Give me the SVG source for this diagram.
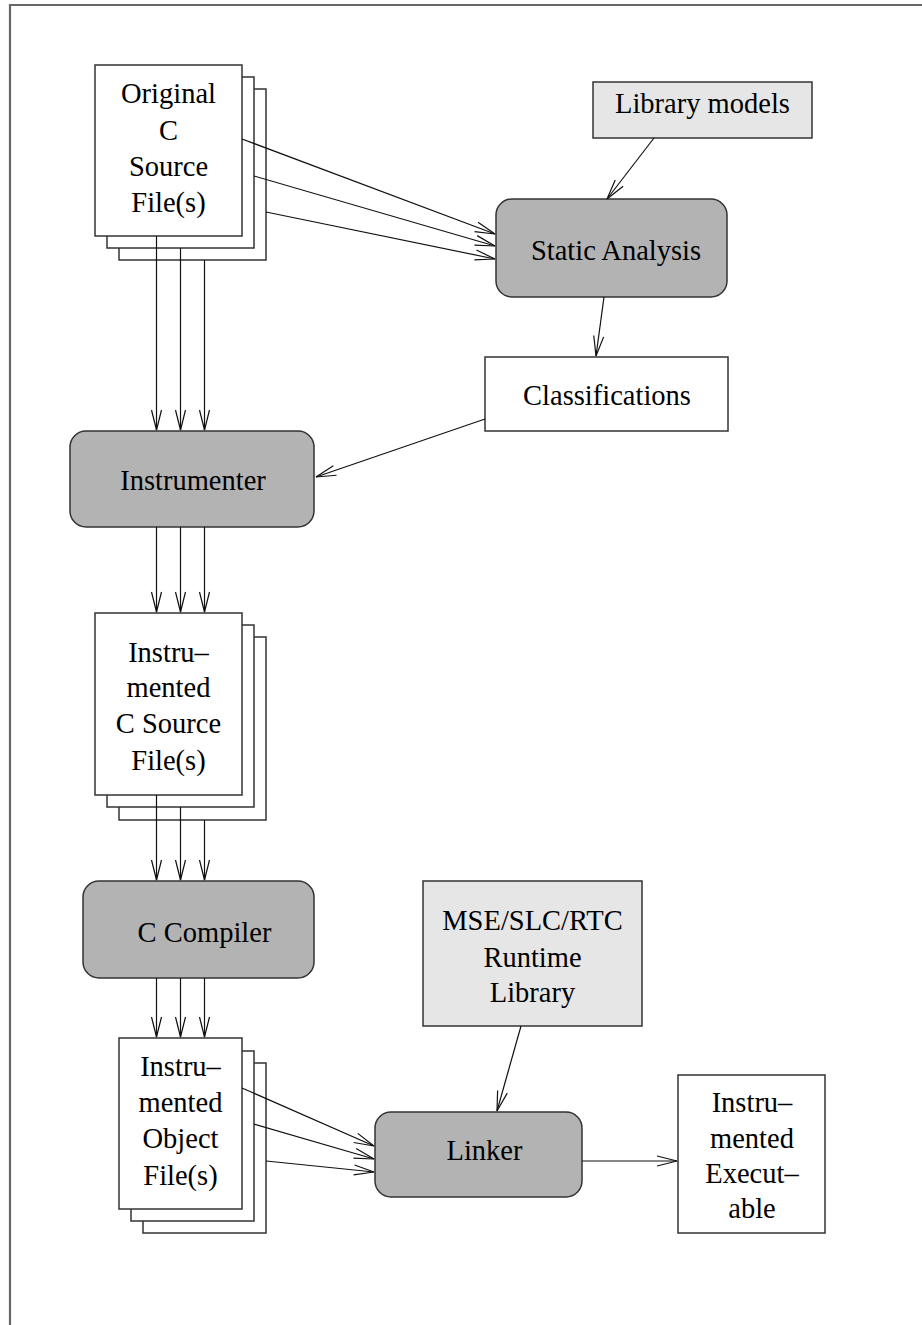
<svg xmlns="http://www.w3.org/2000/svg" width="922" height="1325" viewBox="0 0 922 1325">
<style>
.t{font-family:"Liberation Serif","Times New Roman",serif;font-size:28.5px;fill:#000;text-anchor:middle}
.doc{fill:#fff;stroke:#333;stroke-width:1.5}
.lib{fill:#e6e6e6;stroke:#333;stroke-width:1.5}
.proc{fill:#b3b3b3;stroke:#333;stroke-width:1.5}
.box{fill:#fff;stroke:#333;stroke-width:1.5}
.c{fill:none;stroke:#111;stroke-width:1.2;marker-end:url(#ah)}
</style>
<defs>
<marker id="ah" markerUnits="userSpaceOnUse" markerWidth="24" markerHeight="14" refX="0" refY="0" viewBox="-22 -7 24 14" orient="auto" overflow="visible">
<path d="M-20,-5 L0,0 L-20,5" fill="none" stroke="#111" stroke-width="1.2"/>
</marker>
</defs>
<rect width="922" height="1325" fill="#fff"/>
<path d="M10,1325 V5 H922" fill="none" stroke="#666" stroke-width="2.2"/>

<g id="src">
<rect class="doc" x="119" y="89" width="147" height="171"/>
<rect class="doc" x="107" y="77" width="147" height="171"/>
<rect class="doc" x="95" y="65" width="147" height="171"/>
<text class="t" x="168.5" y="103">Original</text>
<text class="t" x="168.5" y="140">C</text>
<text class="t" x="168.5" y="176">Source</text>
<text class="t" x="168.5" y="212">File(s)</text>
</g>

<g id="libmodels">
<rect class="lib" x="593" y="82" width="219" height="56"/>
<text class="t" x="702.5" y="113">Library models</text>
</g>

<g id="static">
<rect class="proc" x="496" y="199" width="231" height="98" rx="16"/>
<text class="t" x="616" y="260">Static Analysis</text>
</g>

<g id="classif">
<rect class="box" x="485" y="357" width="243" height="74"/>
<text class="t" x="607" y="405">Classifications</text>
</g>

<g id="instrumenter">
<rect class="proc" x="70" y="431" width="244" height="96" rx="16"/>
<text class="t" x="193" y="490">Instrumenter</text>
</g>

<g id="isrc">
<rect class="doc" x="119" y="637" width="147" height="183"/>
<rect class="doc" x="107" y="625" width="147" height="182"/>
<rect class="doc" x="95" y="613" width="147" height="182"/>
<text class="t" x="168.5" y="662">Instru–</text>
<text class="t" x="168.5" y="697">mented</text>
<text class="t" x="168.5" y="733">C Source</text>
<text class="t" x="168.5" y="770">File(s)</text>
</g>

<g id="compiler">
<rect class="proc" x="83" y="881" width="231" height="97" rx="16"/>
<text class="t" x="204.5" y="942">C Compiler</text>
</g>

<g id="runtime">
<rect class="lib" x="423" y="881" width="219" height="145"/>
<text class="t" x="532.5" y="930">MSE/SLC/RTC</text>
<text class="t" x="532.5" y="967">Runtime</text>
<text class="t" x="532.5" y="1002">Library</text>
</g>

<g id="obj">
<rect class="doc" x="143" y="1063" width="123" height="170"/>
<rect class="doc" x="131" y="1051" width="123" height="170"/>
<rect class="doc" x="119" y="1038" width="123" height="171"/>
<text class="t" x="180.5" y="1076">Instru–</text>
<text class="t" x="180.5" y="1112">mented</text>
<text class="t" x="180.5" y="1148">Object</text>
<text class="t" x="180.5" y="1185">File(s)</text>
</g>

<g id="linker">
<rect class="proc" x="375" y="1112" width="207" height="85" rx="16"/>
<text class="t" x="484.5" y="1160">Linker</text>
</g>

<g id="exe">
<rect class="box" x="678" y="1075" width="147" height="158"/>
<text class="t" x="752" y="1112">Instru–</text>
<text class="t" x="752" y="1148">mented</text>
<text class="t" x="752" y="1183">Execut–</text>
<text class="t" x="752" y="1218">able</text>
</g>

<g id="connectors">
<path class="c" d="M242,139 L495,234"/>
<path class="c" d="M254,176 L495,246"/>
<path class="c" d="M266,212 L495,259"/>
<path class="c" d="M654,138 L607,199"/>
<path class="c" d="M604,297 L596,356"/>
<path class="c" d="M485,419 L316,477"/>
<path class="c" d="M156.5,236 L156.5,430"/>
<path class="c" d="M180.5,248 L180.5,430"/>
<path class="c" d="M204.5,260 L204.5,430"/>
<path class="c" d="M156.5,527 L156.5,612"/>
<path class="c" d="M180.5,527 L180.5,612"/>
<path class="c" d="M204.5,527 L204.5,612"/>
<path class="c" d="M156.5,795 L156.5,880"/>
<path class="c" d="M180.5,807 L180.5,880"/>
<path class="c" d="M204.5,820 L204.5,880"/>
<path class="c" d="M156.5,978 L156.5,1037"/>
<path class="c" d="M180.5,978 L180.5,1037"/>
<path class="c" d="M204.5,978 L204.5,1037"/>
<path class="c" d="M242,1088 L374,1146"/>
<path class="c" d="M254,1124 L374,1159"/>
<path class="c" d="M266,1161 L374,1172"/>
<path class="c" d="M521,1026 L497,1111"/>
<path class="c" d="M582,1161 L677,1161"/>
</g>
</svg>
